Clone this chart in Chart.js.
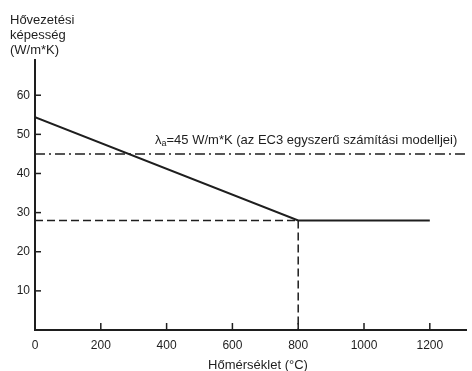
<!DOCTYPE html>
<html>
<head>
<meta charset="utf-8">
<script src="https://cdn.jsdelivr.net/npm/chart.js@4"></script>
<style>
  html, body { margin: 0; padding: 0; background: #fff; }
  #wrap { width: 472px; height: 371px; }
</style>
</head>
<body>
<div id="wrap"><canvas id="conductivity-chart"></canvas></div>
<script>
// thermal conductivity of steel vs temperature
const temperatures = [0, 800, 1200];
const conductivity = [54.4, 28, 28];
const breakTemp = 800;
const breakValue = 28;
const simplifiedValue = 45;
const xMax = 1310;
const yMax = 69;
const xTickValues = [0, 200, 400, 600, 800, 1000, 1200];
const yTickValues = [10, 20, 30, 40, 50, 60];
const yTitleLines = ['Hővezetési', 'képesség', '(W/m*K)'];
const xTitle = 'Hőmérséklet (°C)';

const ink = '#1e1e1e';
const fontFamily = 'Liberation Sans, Arial, sans-serif';

// ticks point into the plot, and the extra labels sit on top
const decorations = {
    id: 'decorations',
    afterDraw(chart) {
        const ctx = chart.ctx;
        const x = chart.scales.x;
        const y = chart.scales.y;
        const area = chart.chartArea;
        ctx.save();
        ctx.strokeStyle = ink;
        ctx.lineWidth = 1.5;
        yTickValues.forEach(v => {
            const py = y.getPixelForValue(v);
            ctx.beginPath();
            ctx.moveTo(area.left, py);
            ctx.lineTo(area.left + 6, py);
            ctx.stroke();
        });
        xTickValues.slice(1).forEach(v => {
            const px = x.getPixelForValue(v);
            ctx.beginPath();
            ctx.moveTo(px, area.bottom);
            ctx.lineTo(px, area.bottom - 7);
            ctx.stroke();
        });

        ctx.fillStyle = ink;
        ctx.font = '13px ' + fontFamily;
        ctx.textBaseline = 'middle';
        ctx.textAlign = 'left';
        yTitleLines.forEach((line, i) => ctx.fillText(line, 10, 20 + i * 15));

        ctx.textAlign = 'center';
        ctx.fillText(xTitle, 258, 365);
        ctx.textAlign = 'left';

        // λa label above the dash-dot line
        const ly = y.getPixelForValue(simplifiedValue) - 13;
        let lx = 155;
        ctx.fillText('λ', lx, ly);
        lx += ctx.measureText('λ').width;
        ctx.font = '9px ' + fontFamily;
        ctx.fillText('a', lx, ly + 3);
        lx += ctx.measureText('a').width;
        ctx.font = '13px ' + fontFamily;
        ctx.fillText('=' + simplifiedValue + ' W/m*K (az EC3 egyszerű számítási modelljei)', lx, ly);
        ctx.restore();
    }
};

const lineStyle = {
    borderColor: ink,
    pointRadius: 0,
    fill: false,
    tension: 0,
    showLine: true
};

new Chart(document.getElementById('conductivity-chart'), {
    type: 'scatter',
    data: {
        datasets: [
            {
                ...lineStyle,
                borderWidth: 2,
                data: temperatures.map((t, i) => ({ x: t, y: conductivity[i] }))
            },
            {
                ...lineStyle,
                borderWidth: 1.5,
                borderDash: [8, 4],
                data: [{ x: 0, y: breakValue }, { x: breakTemp, y: breakValue }]
            },
            {
                ...lineStyle,
                borderWidth: 1.5,
                borderDash: [8, 4],
                data: [{ x: breakTemp, y: breakValue }, { x: breakTemp, y: 0 }]
            },
            {
                ...lineStyle,
                borderWidth: 1.5,
                borderDash: [10, 4, 2, 4],
                data: [{ x: 0, y: simplifiedValue }, { x: xMax, y: simplifiedValue }]
            }
        ]
    },
    options: {
        responsive: true,
        maintainAspectRatio: false,
        animation: false,
        layout: { padding: { top: 60, right: 6, left: 0, bottom: 0 } },
        plugins: {
            legend: { display: false },
            tooltip: { enabled: false }
        },
        scales: {
            x: {
                type: 'linear',
                min: 0,
                max: xMax,
                afterBuildTicks: scale => { scale.ticks = xTickValues.map(v => ({ value: v })); },
                afterFit: scale => { scale.height = 41; },
                grid: { display: false, drawTicks: false },
                border: { display: true, color: ink, width: 2 },
                ticks: {
                    color: ink,
                    padding: 8,
                    maxRotation: 0,
                    callback: v => String(v),
                    font: { family: fontFamily, size: 12 }
                }
            },
            y: {
                type: 'linear',
                min: 0,
                max: yMax,
                afterBuildTicks: scale => { scale.ticks = yTickValues.map(v => ({ value: v })); },
                afterFit: scale => { scale.width = 35; },
                grid: { display: false, drawTicks: false },
                border: { display: true, color: ink, width: 2 },
                ticks: {
                    color: ink,
                    padding: 5,
                    callback: v => String(v),
                    font: { family: fontFamily, size: 12 }
                }
            }
        }
    },
    plugins: [decorations]
});
</script>
</body>
</html>
